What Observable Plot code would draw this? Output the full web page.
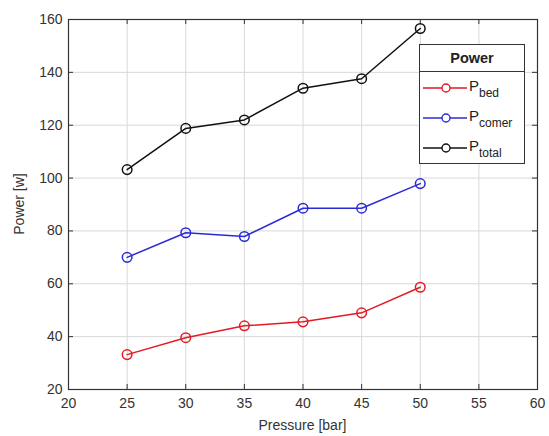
<!DOCTYPE html>
<html>
<head>
<meta charset="utf-8">
<script src="https://cdn.jsdelivr.net/npm/d3@7"></script>
<script src="https://cdn.jsdelivr.net/npm/@observablehq/plot@0.6"></script>
<style>
  html, body { margin: 0; padding: 0; background: #fff; }
  #wrap { position: relative; width: 549px; height: 436px; font-family: "Liberation Sans", Arial, sans-serif; }
  #legend {
    position: absolute; left: 419px; top: 44px; width: 106px; height: 120px;
    border: 1.5px solid #333; background: #fff; box-sizing: border-box;
    color: #222;
  }
  #legend .title { height: 26px; border-bottom: 1.5px solid #333; text-align: center;
    font-weight: bold; font-size: 14.5px; line-height: 26px; }
  #legend .rows { padding-top: 3px; }
  #legend .row { position: relative; height: 30px; }
  #legend svg { position: absolute; left: 3px; top: 6px; }
  #legend .lab { position: absolute; left: 49px; top: 2px; font-size: 15px; }
  #legend .lab sub { font-size: 12px; vertical-align: -6px; }
</style>
</head>
<body>
<div id="wrap"></div>
<script>
// Pressure levels [bar]
const pressure = [25, 30, 35, 40, 45, 50];
// Power per component [w]
const pBed = [33.2, 39.6, 44.1, 45.6, 49.0, 58.7];
const pComer = [70.0, 79.3, 77.9, 88.6, 88.6, 97.9];
const pTotal = [103.2, 118.8, 122.0, 134.0, 137.6, 156.6];

const seriesNames = ["bed", "comer", "total"];
const seriesColors = ["#e41a24", "#2b2bd6", "#111111"];
const xTicks = [20, 25, 30, 35, 40, 45, 50, 55, 60];
const yTicks = [20, 40, 60, 80, 100, 120, 140, 160];

const rows = [];
[pBed, pComer, pTotal].forEach((vals, i) => {
  vals.forEach((v, j) => rows.push({series: seriesNames[i], pressure: pressure[j], power: v}));
});

const W = 549, H = 436;
const mL = 68, mR = 12, mT = 19, mB = 47;
const plotW = W - mL - mR, plotH = H - mT - mB;
const tick = 5;
const axisColor = "#333";

const chart = Plot.plot({
  width: W, height: H,
  marginLeft: mL, marginRight: mR, marginTop: mT, marginBottom: mB,
  style: {fontFamily: "'Liberation Sans', Arial, sans-serif", fontSize: "14px", color: "#333", background: "#fff"},
  x: {domain: [20, 60], ticks: xTicks},
  y: {domain: [20, 160], ticks: yTicks},
  color: {domain: seriesNames, range: seriesColors},
  marks: [
    Plot.gridX(xTicks, {stroke: "#d8d8d8", strokeOpacity: 1}),
    Plot.gridY(yTicks, {stroke: "#d8d8d8", strokeOpacity: 1}),
    // inward tick marks on all four sides
    Plot.tickX(xTicks, {x: d => d, insetTop: plotH - tick, stroke: axisColor}),
    Plot.tickX(xTicks, {x: d => d, insetBottom: plotH - tick, stroke: axisColor}),
    Plot.tickY(yTicks, {y: d => d, insetRight: plotW - tick, stroke: axisColor}),
    Plot.tickY(yTicks, {y: d => d, insetLeft: plotW - tick, stroke: axisColor}),
    Plot.axisX(xTicks, {tickSize: 0, tickPadding: 9, fontSize: 14, label: null}),
    Plot.axisY(yTicks, {tickSize: 0, tickPadding: 6, fontSize: 14, label: null}),
    Plot.frame({stroke: axisColor, strokeWidth: 1.2}),
    Plot.line(rows, {x: "pressure", y: "power", z: "series", stroke: "series", strokeWidth: 1.5}),
    Plot.dot(rows, {x: "pressure", y: "power", stroke: "series", fill: "none", r: 4.8, strokeWidth: 1.5})
  ]
});

const svg = d3.select(chart);
svg.append("text")
  .attr("x", mL + plotW / 2).attr("y", 430)
  .attr("text-anchor", "middle").attr("font-size", 14).attr("fill", "#333")
  .text("Pressure [bar]");
svg.append("text")
  .attr("transform", `translate(24,${mT + plotH / 2}) rotate(-90)`)
  .attr("text-anchor", "middle").attr("font-size", 14).attr("fill", "#333")
  .text("Power [w]");

const wrap = document.getElementById("wrap");
wrap.appendChild(chart);

// Legend box inside the axes
const legend = document.createElement("div");
legend.id = "legend";
let html = '<div class="title">Power</div><div class="rows">';
seriesNames.forEach((name, i) => {
  html += `<div class="row"><svg width="46" height="14">
    <line x1="0" y1="7" x2="44" y2="7" stroke="${seriesColors[i]}" stroke-width="1.4"/>
    <circle cx="23" cy="7" r="4" fill="#fff" stroke="${seriesColors[i]}" stroke-width="1.4"/>
  </svg><span class="lab">P<sub>${name}</sub></span></div>`;
});
html += '</div>';
legend.innerHTML = html;
wrap.appendChild(legend);
</script>
</body>
</html>
